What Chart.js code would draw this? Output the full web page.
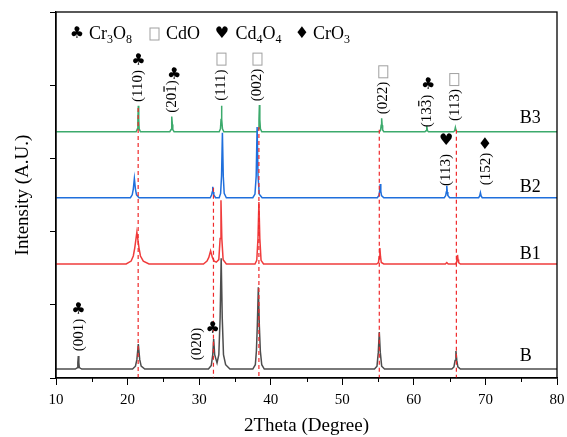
<!DOCTYPE html>
<html>
<head>
<meta charset="utf-8">
<script src="https://cdn.jsdelivr.net/npm/chart.js@4.4.0/dist/chart.umd.min.js"></script>
<style>
  html, body { margin: 0; padding: 0; background: #fff; }
</style>
</head>
<body>
<canvas id="xrdChart" width="567" height="437"></canvas>
<script>
// XRD patterns of samples B, B1, B2, B3 (stacked, arbitrary units)

// sample B
const bX = [10, 12.7, 12.98, 13.05, 13.12, 13.19, 13.26, 13.6, 20.7, 21.1, 21.3, 21.5, 21.7, 21.9, 22.4,
  31.3, 31.7, 31.9, 32.03, 32.17, 32.5, 32.75, 32.93, 33.08, 33.23, 33.4, 33.7, 34.3,
  37.5, 37.85, 38.0, 38.13, 38.27, 38.41, 38.55, 38.75, 39.1,
  54.5, 54.85, 55.03, 55.17, 55.31, 55.5, 55.9, 65.3, 65.6, 65.76, 65.88, 66.0, 66.15, 66.5, 80];
const bY = [0, 0, 20, 90, 180, 90, 20, 0, 0, 40, 130, 345, 130, 40, 0,
  0, 50, 200, 415, 200, 85, 200, 700, 1530, 700, 200, 60, 0,
  0, 60, 250, 600, 1130, 600, 250, 60, 0,
  0, 40, 230, 510, 230, 40, 0, 0, 30, 120, 250, 120, 30, 0, 0];

// sample B1
const b1X = [10, 19.8, 20.5, 20.8, 21.0, 21.3, 21.6, 21.8, 22.2, 23.0,
  30.6, 31.1, 31.35, 31.6, 31.85, 32.1, 32.4, 32.75, 32.93, 33.05, 33.17, 33.35, 33.8,
  37.8, 38.05, 38.22, 38.35, 38.48, 38.65, 39.0,
  54.8, 55.05, 55.16, 55.25, 55.34, 55.45, 55.8, 64.4, 64.6, 64.8,
  65.8, 65.95, 66.03, 66.1, 66.17, 66.25, 66.5, 80];
const b1Y = [0, 0, 40, 110, 220, 440, 220, 110, 40, 0,
  0, 40, 90, 180, 90, 40, 25, 60, 350, 880, 350, 60, 0,
  0, 50, 350, 855, 350, 50, 0,
  0, 20, 100, 220, 100, 20, 0, 0, 20, 0,
  0, 20, 60, 125, 60, 20, 0, 0];

// sample B2
const b2X = [10, 20.4, 20.65, 20.8, 20.95, 21.1, 21.25, 21.6,
  31.55, 31.75, 31.83, 31.9, 31.97, 32.05, 32.3, 32.8, 33.0, 33.13, 33.25, 33.37, 33.5, 33.8,
  37.5, 37.8, 37.97, 38.1, 38.23, 38.4, 38.8,
  54.9, 55.12, 55.22, 55.3, 55.38, 55.48, 55.8,
  64.25, 64.45, 64.53, 64.6, 64.67, 64.75, 65.0, 69.05, 69.2, 69.3, 69.4, 69.55, 80];
const b2Y = [0, 0, 40, 120, 265, 120, 40, 0,
  0, 40, 80, 150, 80, 40, 0, 0, 60, 300, 895, 300, 60, 0,
  0, 50, 300, 975, 300, 50, 0,
  0, 30, 90, 190, 90, 30, 0,
  0, 30, 80, 165, 80, 30, 0, 0, 25, 70, 25, 0, 0];

// sample B3
const b3X = [10, 21.2, 21.38, 21.44, 21.5, 21.56, 21.62, 21.8, 25.9, 26.08, 26.14, 26.2, 26.26, 26.32, 26.5,
  32.8, 32.98, 33.06, 33.12, 33.18, 33.26, 33.45, 38.1, 38.28, 38.36, 38.42, 38.48, 38.56, 38.75,
  55.2, 55.36, 55.43, 55.5, 55.57, 55.64, 55.8, 61.55, 61.7, 61.8, 61.9, 62.05,
  65.55, 65.7, 65.8, 65.9, 66.05, 80];
const b3Y = [0, 0, 40, 170, 360, 170, 40, 0, 0, 30, 100, 210, 100, 30, 0,
  0, 40, 170, 360, 170, 40, 0, 0, 40, 170, 370, 170, 40, 0,
  0, 25, 90, 185, 90, 25, 0, 0, 15, 80, 15, 0,
  0, 15, 60, 15, 0, 0];

const seriesNames = ['B', 'B1', 'B2', 'B3'];
const seriesOffsets = [40, 1490, 2404, 3314];
const nameLabelY = [220, 1630, 2545, 3500];
const seriesColors = ['#4d4d4d', '#f03c3c', '#1f6fdc', '#3caa6c'];

// reference lines (2theta) and where each dashed line starts
const refLineX = [21.48, 32.0, 38.35, 55.17, 65.94];
const refLineTop = [3640, 2540, 3380, 3340, 3340];

// peak index labels: text, bar over last digit, position, phase mark
const peakNotes = [
  { text: '(001)', bar: false, x: 13.26, y: 510, mark: 'club', mx: 13.12, my: 855 },
  { text: '(110)', bar: false, x: 21.5, y: 3944, mark: 'club', mx: 21.5, my: 4296 },
  { text: '(201)', bar: true, x: 26.2, y: 3800, mark: 'club', mx: 26.5, my: 4096 },
  { text: '(111)', bar: false, x: 33.12, y: 3958, mark: 'square', mx: 33.12, my: 4316 },
  { text: '(002)', bar: false, x: 38.15, y: 3958, mark: 'square', mx: 38.15, my: 4316 },
  { text: '(020)', bar: false, x: 29.74, y: 386, mark: 'club', mx: 31.9, my: 593 },
  { text: '(022)', bar: false, x: 55.73, y: 3778, mark: 'square', mx: 55.73, my: 4141 },
  { text: '(133)', bar: true, x: 61.79, y: 3600, mark: 'club', mx: 62.0, my: 3958 },
  { text: '(113)', bar: false, x: 65.75, y: 3682, mark: 'square', mx: 65.65, my: 4034 },
  { text: '(113)', bar: false, x: 64.5, y: 2786, mark: 'heart', mx: 64.5, my: 3186 },
  { text: '(152)', bar: false, x: 70.04, y: 2800, mark: 'diamond', mx: 69.94, my: 3130 }
];

const SERIF = "'Liberation Serif', 'Times New Roman', serif";
const SYM = "'DejaVu Sans', sans-serif";
const markGlyph = { club: '\u2663', heart: '\u2665', diamond: '\u2666' };

function drawMark(ctx, type, px, py) {
  if (type === 'square') {
    ctx.save();
    ctx.strokeStyle = '#a0a0a0';
    ctx.lineWidth = 1;
    ctx.strokeRect(px - 4.5, py - 6, 9, 12);
    ctx.restore();
    return;
  }
  ctx.save();
  ctx.fillStyle = '#000';
  ctx.font = '16px ' + SYM;
  ctx.textAlign = 'center';
  ctx.textBaseline = 'middle';
  ctx.fillText(markGlyph[type], px, py);
  ctx.restore();
}

// text with subscripts
function drawFormula(ctx, parts, x, y) {
  parts.forEach(p => {
    if (p.sub) {
      ctx.font = '12px ' + SERIF;
      ctx.fillText(p.t, x, y + 6);
    } else {
      ctx.font = '18px ' + SERIF;
      ctx.fillText(p.t, x, y);
    }
    x += ctx.measureText(p.t).width;
  });
  return x;
}

const decorPlugin = {
  id: 'decor',
  afterDraw(chart) {
    const ctx = chart.ctx;
    const area = chart.chartArea;
    const xs = chart.scales.x;
    const ys = chart.scales.y;

    // frame
    ctx.save();
    ctx.strokeStyle = '#000';
    ctx.lineWidth = 1.3;
    ctx.strokeRect(area.left, area.top, area.right - area.left, area.bottom - area.top);

    // minor x ticks
    ctx.lineWidth = 1;
    for (let v = 15; v < 80; v += 10) {
      const px = Math.round(xs.getPixelForValue(v)) + 0.5;
      ctx.beginPath();
      ctx.moveTo(px, area.bottom);
      ctx.lineTo(px, area.bottom + 4);
      ctx.stroke();
    }
    ctx.restore();

    // sample names
    ctx.save();
    ctx.fillStyle = '#000';
    ctx.font = '18px ' + SERIF;
    ctx.textAlign = 'left';
    ctx.textBaseline = 'middle';
    seriesNames.forEach((n, i) => {
      ctx.fillText(n, xs.getPixelForValue(74.8), ys.getPixelForValue(nameLabelY[i]));
    });
    ctx.restore();

    // peak labels (rotated)
    peakNotes.forEach(n => {
      const px = xs.getPixelForValue(n.x);
      const py = ys.getPixelForValue(n.y);
      ctx.save();
      ctx.translate(px, py);
      ctx.rotate(-Math.PI / 2);
      ctx.fillStyle = '#000';
      ctx.font = '15px ' + SERIF;
      ctx.textAlign = 'center';
      ctx.textBaseline = 'middle';
      ctx.fillText(n.text, 0, 0);
      if (n.bar) {
        const full = ctx.measureText(n.text).width;
        const head = ctx.measureText(n.text.slice(0, 3)).width;
        const digit = ctx.measureText(n.text.charAt(3)).width;
        const x0 = -full / 2 + head + 1;
        ctx.fillRect(x0, -8.5, digit - 2, 1.2);
      }
      ctx.restore();
      drawMark(ctx, n.mark, xs.getPixelForValue(n.mx), ys.getPixelForValue(n.my));
    });

    // phase legend
    const ly = area.top + 22;
    const lx = area.left;
    ctx.save();
    ctx.fillStyle = '#000';
    ctx.textAlign = 'left';
    ctx.textBaseline = 'middle';
    drawMark(ctx, 'club', lx + 21, ly);
    drawFormula(ctx, [{ t: 'Cr' }, { t: '3', sub: true }, { t: 'O' }, { t: '8', sub: true }], lx + 33, ly);
    drawMark(ctx, 'square', lx + 98.5, ly);
    drawFormula(ctx, [{ t: 'CdO' }], lx + 110, ly);
    drawMark(ctx, 'heart', lx + 166, ly);
    drawFormula(ctx, [{ t: 'Cd' }, { t: '4', sub: true }, { t: 'O' }, { t: '4', sub: true }], lx + 179.5, ly);
    drawMark(ctx, 'diamond', lx + 246, ly);
    drawFormula(ctx, [{ t: 'CrO' }, { t: '3', sub: true }], lx + 257, ly);
    ctx.restore();
  }
};

function toPoints(xv, yv, off) {
  return xv.map((x, i) => ({ x: x, y: yv[i] + off }));
}

const refDatasets = refLineX.map((x, i) => ({
  label: 'ref' + i,
  data: [{ x: x, y: refLineTop[i] }, { x: x, y: -83 }],
  borderColor: '#f0292b',
  borderWidth: 1.2,
  borderDash: [4, 3],
  pointRadius: 0,
  order: 0
}));

const allX = [bX, b1X, b2X, b3X];
const allY = [bY, b1Y, b2Y, b3Y];
const drawOrder = [2, 3, 1, 4];
const seriesDatasets = seriesNames.map((n, i) => ({
  label: n,
  data: toPoints(allX[i], allY[i], seriesOffsets[i]),
  borderColor: seriesColors[i],
  borderWidth: 1.5,
  pointRadius: 0,
  tension: 0,
  order: drawOrder[i]
}));

const chart = new Chart(document.getElementById('xrdChart').getContext('2d'), {
  type: 'line',
  data: { datasets: refDatasets.concat(seriesDatasets) },
  options: {
    responsive: false,
    animation: false,
    layout: { padding: { top: 12, right: 10, left: 0, bottom: 0 } },
    plugins: { legend: { display: false }, tooltip: { enabled: false } },
    scales: {
      x: {
        type: 'linear',
        min: 10,
        max: 80,
        afterFit: s => { s.height = 59; s.paddingLeft = 0; s.paddingRight = 0; },
        ticks: { stepSize: 10, color: '#000', font: { family: SERIF, size: 15 }, padding: 6, maxRotation: 0 },
        grid: { drawOnChartArea: false, drawTicks: true, tickLength: 7, tickColor: '#000', tickWidth: 1 },
        border: { color: '#000', width: 1.3 },
        title: { display: true, text: '2Theta (Degree)', color: '#000', font: { family: SERIF, size: 19 }, padding: { top: 0, bottom: 0 } }
      },
      y: {
        type: 'linear',
        min: -83,
        max: 4966,
        afterFit: s => { s.width = 56; },
        ticks: { stepSize: 1000, includeBounds: false, callback: () => '' },
        grid: { drawOnChartArea: false, drawTicks: true, tickLength: 6, tickColor: '#000', tickWidth: 1 },
        border: { color: '#000', width: 1.3 },
        title: { display: true, text: 'Intensity (A.U.)', color: '#000', font: { family: SERIF, size: 19 }, padding: { top: 12, bottom: 0 } }
      }
    }
  },
  plugins: [decorPlugin]
});
</script>
</body>
</html>
